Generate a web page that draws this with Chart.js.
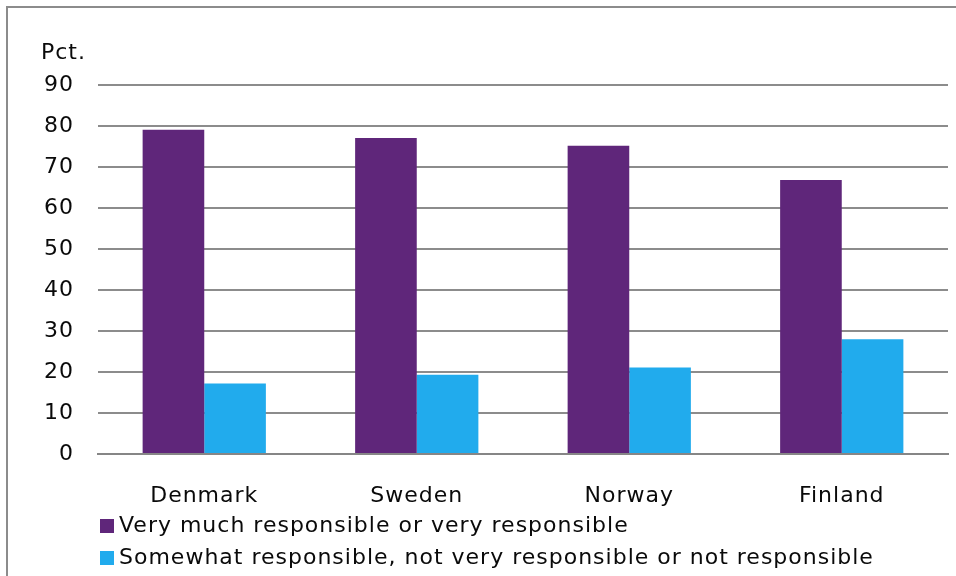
<!DOCTYPE html>
<html>
<head>
<meta charset="utf-8">
<script src="https://cdn.jsdelivr.net/npm/chart.js@4.4.1/dist/chart.umd.min.js"></script>
<style>
  html, body { margin: 0; padding: 0; background: #fff; }
  #wrap { position: relative; width: 956px; height: 576px; }
</style>
</head>
<body>
<div id="wrap"><canvas id="chart" width="956" height="576"></canvas></div>
<script>
// data
const countries = ['Denmark', 'Sweden', 'Norway', 'Finland'];
const veryResponsible = [79.1, 77.1, 75.2, 66.8];
const lessResponsible = [17.2, 19.3, 21.1, 28.0];
const seriesNames = [
  'Very much responsible or very responsible',
  'Somewhat responsible, not very responsible or not responsible'
];
const yUnit = 'Pct.';

const FONT = '"DejaVu Sans", Verdana, sans-serif';
const TEXT = '#0a0a0a';

// frame, unit label and the stacked legend under the axis
const extras = {
  id: 'extras',
  beforeDraw(chart) {
    const c = chart.ctx;
    c.letterSpacing = '1px'; // reference text is a bit wider than DejaVu
    c.save();
    c.strokeStyle = '#8c8c8c';
    c.lineWidth = 2;
    c.beginPath();
    c.moveTo(7, 576);
    c.lineTo(7, 7);
    c.lineTo(956, 7);
    c.stroke();
    c.restore();
  },
  afterDraw(chart) {
    const c = chart.ctx;
    const area = chart.chartArea;
    c.save();
    c.font = '22px ' + FONT;
    c.fillStyle = TEXT;
    c.textBaseline = 'middle';
    c.textAlign = 'left';
    c.fillText(yUnit, 41, 53);
    chart.data.datasets.forEach((ds, i) => {
      const y = 526 + i * 32;
      c.fillStyle = ds.backgroundColor;
      c.fillRect(area.left + 2, y - 7, 14, 14);
      c.fillStyle = TEXT;
      c.fillText(ds.label, area.left + 21, y);
    });
    c.restore();
  }
};

document.addEventListener('DOMContentLoaded', function () {
  new Chart(document.getElementById('chart').getContext('2d'), {
    type: 'bar',
    data: {
      labels: countries,
      datasets: [
        { label: seriesNames[0], data: veryResponsible, backgroundColor: '#5f267a' },
        { label: seriesNames[1], data: lessResponsible, backgroundColor: '#21abed' }
      ]
    },
    options: {
      responsive: false,
      animation: false,
      layout: { padding: { left: 0, top: 85, right: 8, bottom: 0 } },
      datasets: { bar: { categoryPercentage: 0.58, barPercentage: 1.0 } },
      plugins: { legend: { display: false }, tooltip: { enabled: false } },
      scales: {
        x: {
          grid: { display: false, drawTicks: false },
          border: { display: true, color: '#868686', width: 2 },
          ticks: { color: TEXT, font: { family: FONT, size: 22 }, padding: 29 },
          afterFit(s) { s.height = 122; }
        },
        y: {
          min: 0, max: 90,
          ticks: { stepSize: 10, color: TEXT, font: { family: FONT, size: 22 }, padding: 24 },
          grid: { color: '#8c8c8c', lineWidth: 2, drawTicks: false },
          border: { display: false },
          afterFit(s) { s.width = 98; }
        }
      }
    },
    plugins: [extras]
  });
});
</script>
</body>
</html>
